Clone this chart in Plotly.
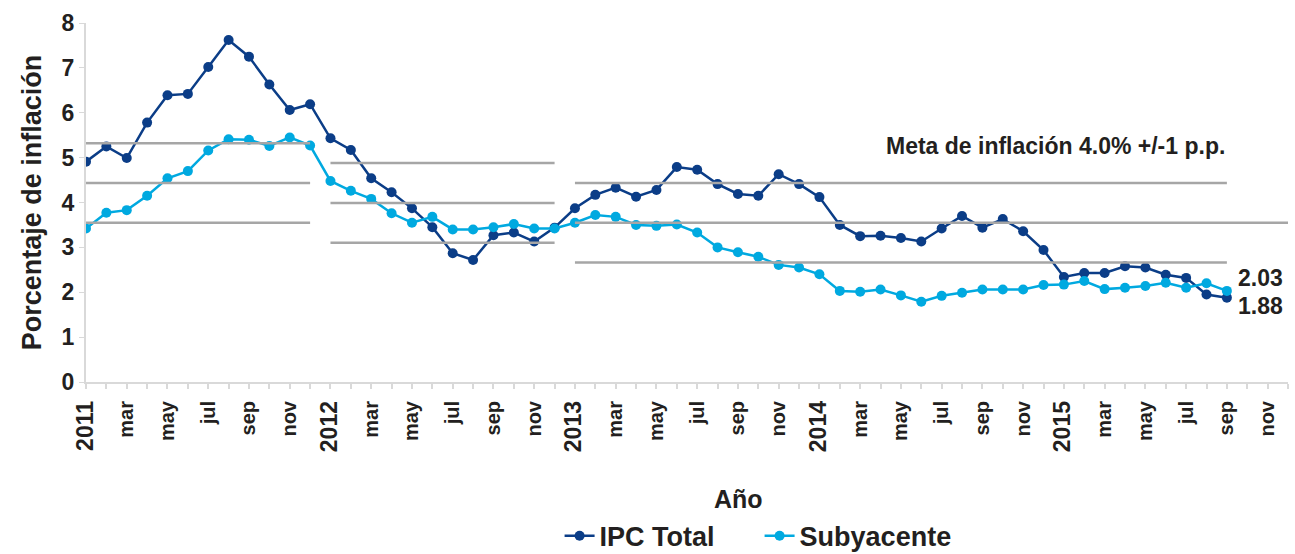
import plotly.graph_objects as go

# meses ene-2011 .. dic-2015 (eje categorico)
anios = [2011, 2012, 2013, 2014, 2015]
meses = ["ene", "feb", "mar", "abr", "may", "jun", "jul", "ago", "sep", "oct", "nov", "dic"]

# inflacion interanual (%), ene-2011 .. sep-2015
ipc_total = [
    4.91, 5.25, 4.99, 5.78, 6.39, 6.42, 7.02, 7.62, 7.25, 6.63, 6.06, 6.19,
    5.43, 5.17, 4.54, 4.23, 3.87, 3.45, 2.87, 2.72, 3.27, 3.33, 3.13, 3.44,
    3.87, 4.17, 4.33, 4.13, 4.28, 4.79, 4.73, 4.41, 4.19, 4.15, 4.63, 4.41,
    4.12, 3.50, 3.25, 3.26, 3.21, 3.13, 3.42, 3.70, 3.44, 3.63, 3.36, 2.94,
    2.34, 2.43, 2.43, 2.58, 2.55, 2.39, 2.32, 1.95, 1.88,
]
subyacente = [
    3.42, 3.77, 3.83, 4.15, 4.54, 4.70, 5.16, 5.41, 5.40, 5.26, 5.45, 5.27,
    4.48, 4.26, 4.08, 3.76, 3.55, 3.68, 3.40, 3.40, 3.45, 3.52, 3.42, 3.42,
    3.55, 3.72, 3.68, 3.50, 3.48, 3.51, 3.33, 3.00, 2.89, 2.79, 2.61, 2.55,
    2.40, 2.03, 2.01, 2.06, 1.93, 1.79, 1.92, 1.99, 2.06, 2.06, 2.06, 2.16,
    2.17, 2.25, 2.07, 2.10, 2.14, 2.21, 2.10, 2.20, 2.03,
]

# meta de inflacion por periodo (centro, +/- tolerancia), en eje secundario
meta_centro = [5.0, 4.5, 4.0]
meta_tolerancia = 1.0
meta_desde = [0, 12, 24]      # indice de mes inicial
meta_hasta = [11, 23, 56]     # indice de mes final

etiquetas = []
for a in anios:
    for m in meses:
        etiquetas.append(f"{a}-{m}")

idx = list(range(len(etiquetas)))
ticktext = []
for e in etiquetas:
    a, m = e.split("-")
    if m == "ene":
        ticktext.append(f"<span style='font-size:23px'>{a}</span>")
    elif m in ("mar", "may", "jul", "sep", "nov"):
        ticktext.append(m)
    else:
        ticktext.append("")

AZUL = "#0b3d87"
CELESTE = "#00a9e0"
GRIS = "#a6a6a6"
FUENTE = "Liberation Sans, Arial, sans-serif"
TEXTO = "#231f20"


def fuente(size):
    return dict(family=FUENTE, size=size, color=TEXTO, weight="bold")


fig = go.Figure()

# bandas de la meta
for c, d, h in zip(meta_centro, meta_desde, meta_hasta):
    for k in (1, 0, -1):
        fin = h
        if k == 0 and d == meta_desde[-1]:
            fin = idx[-1]
        fig.add_trace(go.Scatter(
            x=[d, fin], y=[c + k * meta_tolerancia] * 2, yaxis="y2",
            mode="lines", line=dict(color=GRIS, width=2.5),
            showlegend=False, hoverinfo="skip"))

fig.add_trace(go.Scatter(
    x=idx[:len(ipc_total)], y=ipc_total, name="IPC Total",
    mode="lines+markers", line=dict(color=AZUL, width=2.5),
    marker=dict(size=10, color=AZUL)))
fig.add_trace(go.Scatter(
    x=idx[:len(subyacente)], y=subyacente, name="Subyacente",
    mode="lines+markers", line=dict(color=CELESTE, width=2.5),
    marker=dict(size=10, color=CELESTE)))

ult = len(ipc_total) - 1
fig.add_annotation(x=ult, y=subyacente[-1], text=f"{subyacente[-1]:.2f}",
                   xanchor="left", xshift=9, yshift=13, showarrow=False,
                   font=fuente(23))
fig.add_annotation(x=ult, y=ipc_total[-1], text=f"{ipc_total[-1]:.2f}",
                   xanchor="left", xshift=9, yshift=-8, showarrow=False,
                   font=fuente(23))
fig.add_annotation(x=ult, y=5.25, text="Meta de inflación 4.0% +/-1 p.p.",
                   xanchor="right", showarrow=False, font=fuente(23))
fig.add_annotation(x=0.543, y=-0.325, xref="paper", yref="paper", text="Año",
                   yanchor="middle", showarrow=False, font=fuente(25))

fig.update_layout(
    width=1295, height=554,
    margin=dict(l=86, r=7, t=23, b=172),
    paper_bgcolor="white", plot_bgcolor="white",
    font=fuente(20),
    xaxis=dict(
        range=[0, len(idx) - 1], tickmode="array", tickvals=idx, ticktext=ticktext,
        tickangle=-90, tickfont=fuente(20), automargin=False, ticklabelstandoff=4,
        showgrid=False, zeroline=False, showline=True, linecolor="#d9d9d9", linewidth=2,
        ticks="outside", ticklen=5, tickcolor="#d9d9d9", tickwidth=1.5),
    yaxis=dict(
        range=[0, 8], dtick=1, showgrid=False, zeroline=False, automargin=False,
        showline=True, linecolor="#d9d9d9", linewidth=2,
        ticks="outside", ticklen=5, tickcolor="#d9d9d9",
        tickfont=fuente(23),
        title=dict(text="Porcentaje de inflación", font=fuente(27), standoff=12)),
    yaxis2=dict(range=[0, 9.02], overlaying="y", visible=False),
    legend=dict(orientation="h", x=0.394, xanchor="left",
                yref="container", y=0.032, yanchor="middle",
                entrywidth=155, font=fuente(27)),
)

fig.write_html("out.html", config={"displayModeBar": False},
               post_script="document.body.style.margin='0';")
